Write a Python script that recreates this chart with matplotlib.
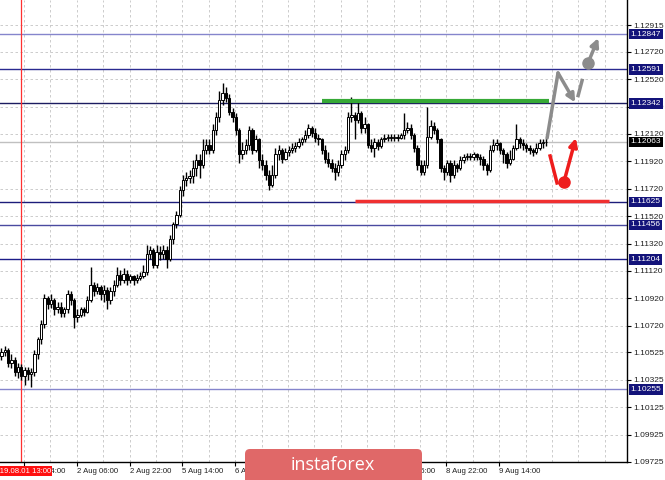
import numpy as np
import matplotlib
matplotlib.use('Agg')
import matplotlib.pyplot as plt
import matplotlib.transforms as mtransforms
from matplotlib.patches import FancyBboxPatch

# EURUSD H1 candles, open = previous close
first_open = 1.1050
closes = [1.1053, 1.1054, 1.1045, 1.1047, 1.1038, 1.1042, 1.1035, 1.1040, 1.1037, 1.1038,
          1.1051, 1.1062, 1.1073, 1.1092, 1.1088, 1.1091, 1.1084, 1.1086, 1.1081, 1.1084,
          1.1095, 1.1091, 1.1078, 1.1080, 1.1084, 1.1082, 1.1091, 1.1102, 1.1097, 1.1100,
          1.1095, 1.1098, 1.1091, 1.1097, 1.1102, 1.1109, 1.1105, 1.1110, 1.1105, 1.1108,
          1.1105, 1.1107, 1.1108, 1.1111, 1.1124, 1.1127, 1.1116, 1.1126, 1.1124, 1.1127,
          1.1121, 1.1135, 1.1146, 1.1153, 1.1171, 1.1178, 1.1180, 1.1181, 1.1187, 1.1193,
          1.1189, 1.1200, 1.1204, 1.1200, 1.1215, 1.1224, 1.1237, 1.1242, 1.1238, 1.1228,
          1.1224, 1.1215, 1.1197, 1.1200, 1.1204, 1.1215, 1.1200, 1.1208, 1.1193, 1.1189,
          1.1182, 1.1175, 1.1182, 1.1197, 1.1200, 1.1194, 1.1199, 1.1200, 1.1202, 1.1203,
          1.1206, 1.1208, 1.1211, 1.1216, 1.1213, 1.1209, 1.1208, 1.1200, 1.1194, 1.1191,
          1.1187, 1.1184, 1.1189, 1.1197, 1.1200, 1.1224, 1.1226, 1.1222, 1.1227, 1.1216,
          1.1219, 1.1204, 1.1202, 1.1206, 1.1203, 1.1208, 1.1209, 1.1210, 1.1209, 1.1210,
          1.1209, 1.1211, 1.1215, 1.1216, 1.1211, 1.1202, 1.1189, 1.1184, 1.1189, 1.1210,
          1.1218, 1.1215, 1.1208, 1.1187, 1.1184, 1.1191, 1.1182, 1.1189, 1.1187, 1.1193,
          1.1195, 1.1196, 1.1195, 1.1197, 1.1195, 1.1194, 1.1189, 1.1186, 1.1200, 1.1204,
          1.1205, 1.1200, 1.1197, 1.1191, 1.1194, 1.1202, 1.1208, 1.1205, 1.1204, 1.1202,
          1.1200, 1.1199, 1.1202, 1.1205, 1.1206, 1.12063]
highs = [1.1056, 1.1057, 1.1056, 1.1051, 1.1049, 1.1045, 1.1044, 1.1042, 1.1042, 1.1041,
         1.1054, 1.1064, 1.1076, 1.1095, 1.1094, 1.1095, 1.1092, 1.1089, 1.1089, 1.1086,
         1.1098, 1.1097, 1.1092, 1.1084, 1.1086, 1.1086, 1.1094, 1.1115, 1.1104, 1.1103,
         1.1102, 1.1102, 1.1100, 1.1100, 1.1105, 1.1115, 1.1113, 1.1114, 1.1113, 1.1110,
         1.1109, 1.1110, 1.1111, 1.1116, 1.1131, 1.1130, 1.1129, 1.1131, 1.1130, 1.1131,
         1.1130, 1.1138, 1.1148, 1.1156, 1.1174, 1.1182, 1.1184, 1.1186, 1.1193, 1.1197,
         1.1197, 1.1208, 1.1208, 1.1208, 1.1219, 1.1228, 1.1243, 1.1249, 1.1246, 1.1241,
         1.1231, 1.1227, 1.1216, 1.1206, 1.1208, 1.1218, 1.1216, 1.1211, 1.1209, 1.1197,
         1.1193, 1.1186, 1.1189, 1.1202, 1.1204, 1.1202, 1.1202, 1.1203, 1.1205, 1.1206,
         1.1209, 1.1210, 1.1215, 1.1219, 1.1218, 1.1216, 1.1212, 1.1209, 1.1204, 1.1199,
         1.1194, 1.1191, 1.1193, 1.1200, 1.1203, 1.1228, 1.1239, 1.1228, 1.1237, 1.1229,
         1.1224, 1.1220, 1.1208, 1.1209, 1.1208, 1.1210, 1.1212, 1.1212, 1.1212, 1.1212,
         1.1212, 1.1213, 1.1227, 1.1221, 1.1219, 1.1213, 1.1204, 1.1193, 1.1193, 1.1232,
         1.1222, 1.1221, 1.1216, 1.1209, 1.1189, 1.1193, 1.1193, 1.1193, 1.1191, 1.1196,
         1.1197, 1.1198, 1.1198, 1.1199, 1.1198, 1.1197, 1.1196, 1.1191, 1.1204, 1.1208,
         1.1208, 1.1206, 1.1202, 1.1199, 1.1200, 1.1204, 1.1219, 1.1210, 1.1208, 1.1205,
         1.1204, 1.1202, 1.1205, 1.1208, 1.1208, 1.1209]
lows = [1.1047, 1.1050, 1.1042, 1.1041, 1.1035, 1.1034, 1.1032, 1.1029, 1.1032, 1.1027,
        1.1035, 1.1048, 1.1059, 1.1070, 1.1084, 1.1085, 1.1080, 1.1081, 1.1078, 1.1078,
        1.1081, 1.1087, 1.1070, 1.1075, 1.1078, 1.1079, 1.1081, 1.1089, 1.1094, 1.1095,
        1.1091, 1.1089, 1.1084, 1.1088, 1.1094, 1.1100, 1.1102, 1.1103, 1.1102, 1.1103,
        1.1102, 1.1103, 1.1105, 1.1107, 1.1109, 1.1121, 1.1114, 1.1114, 1.1120, 1.1121,
        1.1114, 1.1119, 1.1132, 1.1143, 1.1151, 1.1167, 1.1174, 1.1176, 1.1176, 1.1181,
        1.1180, 1.1187, 1.1197, 1.1197, 1.1198, 1.1211, 1.1221, 1.1233, 1.1235, 1.1226,
        1.1221, 1.1211, 1.1191, 1.1194, 1.1197, 1.1200, 1.1197, 1.1199, 1.1187, 1.1186,
        1.1178, 1.1171, 1.1173, 1.1180, 1.1193, 1.1191, 1.1193, 1.1196, 1.1198, 1.1199,
        1.1202, 1.1204, 1.1206, 1.1209, 1.1210, 1.1206, 1.1204, 1.1197, 1.1191, 1.1188,
        1.1184, 1.1178, 1.1181, 1.1187, 1.1193, 1.1198, 1.1221, 1.1208, 1.1220, 1.1213,
        1.1213, 1.1202, 1.1199, 1.1195, 1.1200, 1.1202, 1.1206, 1.1207, 1.1207, 1.1207,
        1.1207, 1.1208, 1.1208, 1.1213, 1.1208, 1.1199, 1.1186, 1.1182, 1.1182, 1.1187,
        1.1208, 1.1212, 1.1205, 1.1184, 1.1178, 1.1182, 1.1177, 1.1180, 1.1184, 1.1186,
        1.1191, 1.1193, 1.1193, 1.1193, 1.1193, 1.1189, 1.1186, 1.1182, 1.1184, 1.1199,
        1.1200, 1.1197, 1.1191, 1.1187, 1.1189, 1.1193, 1.1200, 1.1202, 1.1200, 1.1199,
        1.1197, 1.1196, 1.1197, 1.1200, 1.1202, 1.1203]

# price scale ticks
y_ticks = [1.12915, 1.12720, 1.12520, 1.12320, 1.12120, 1.11920, 1.11720, 1.11520, 1.11320,
           1.11120, 1.10920, 1.10720, 1.10525, 1.10325, 1.10125, 1.09925, 1.09725]
# time scale labels (bar positions)
x_tick_pos = [6.8, 22.8, 38.8, 54.8, 70.8, 86.8, 102.8, 118.8, 134.8, 150.8]
x_tick_labels = ['1 Aug 14:00', '2 Aug 06:00', '2 Aug 22:00', '5 Aug 14:00', '6 Aug 06:00',
                 '6 Aug 22:00', '7 Aug 14:00', '8 Aug 06:00', '8 Aug 22:00', '9 Aug 14:00']
marker_pos = 5.8
marker_label = '2019.08.01 13:00'

# support / resistance levels
levels = [1.12847, 1.12591, 1.12342, 1.11625, 1.11456, 1.11204, 1.10255]
level_colors = ['#8585cc', '#2a2a90', '#1c1c60', '#1c1c7a', '#4a4aa0', '#1c1c88', '#8585cc']
current_price = 1.12063

# drawn scenario marks
green_x = [97.2, 166.0]
green_y = [1.12358, 1.12358]
red_level_x = [107.0, 184.0]
red_level_y = [1.11632, 1.11632]
gray_up_x = [165.3, 168.6]
gray_up_y = [1.1209, 1.12565]
gray_down_end = (173.8, 1.1235)
gray_dash_x = [174.7, 175.9]
gray_dash_y = [1.1240, 1.1251]
gray_dot = (177.7, 1.12638)
gray_tip = (180.8, 1.12820)
red_stroke_x = [166.2, 168.3]
red_stroke_y = [1.11959, 1.11762]
red_dot = (170.4, 1.11770)
red_tip = (174.0, 1.12090)

W, H = 665, 480
fig = plt.figure(figsize=(W / 100, H / 100), dpi=100)
ax = fig.add_axes([0, 18 / H, 627 / W, 462 / H])

n = len(closes)
idx = np.arange(n)
opens = np.array([first_open] + closes[:-1])
closes_a = np.array(closes)

# grid
for gx in np.arange(-1.2, 190, 8.0):
    ax.axvline(gx, color='#c4c4c4', lw=0.6, ls=(0, (3, 3)), zorder=0)
for gy in y_ticks:
    ax.axhline(gy, color='#c4c4c4', lw=0.6, ls=(0, (3, 3)), zorder=0)

# horizontal levels
for lv, lc in zip(levels, level_colors):
    ax.axhline(lv, color=lc, lw=1.0, zorder=1)
ax.axhline(current_price, color='#c0c0c0', lw=1.0, zorder=1)
ax.axvline(marker_pos, color='#ff3030', lw=0.9, zorder=1)

# candles
ax.vlines(idx, lows, highs, color='black', lw=1.0, zorder=2)
body_low = np.minimum(opens, closes_a)
body_h = np.maximum(np.abs(closes_a - opens), 0.00003)
face = ['white' if c >= o else 'black' for o, c in zip(opens, closes_a)]
ax.bar(idx, body_h, bottom=body_low, width=0.7, color=face, edgecolor='black',
       linewidth=0.7, zorder=3)

# scenario lines
ax.plot(green_x, green_y, color='#36a936', lw=3, solid_capstyle='butt', zorder=4)
ax.plot(red_level_x, red_level_y, color='#f03030', lw=2.5, solid_capstyle='butt', zorder=4)

gray = '#8c8c8c'
ax.plot(gray_up_x, gray_up_y, color=gray, lw=2.5, solid_capstyle='round', zorder=5)
ax.annotate('', xy=gray_down_end, xytext=(gray_up_x[1], gray_up_y[1]),
            arrowprops=dict(arrowstyle='-|>', color=gray, lw=2.5, mutation_scale=12,
                            shrinkA=0, shrinkB=0), zorder=5)
ax.plot(gray_dash_x, gray_dash_y, color=gray, lw=2.5, zorder=5)
ax.plot(*gray_dot, 'o', color=gray, ms=8, zorder=5)
ax.annotate('', xy=gray_tip, xytext=gray_dot,
            arrowprops=dict(arrowstyle='-|>', color=gray, lw=2.5, mutation_scale=12,
                            shrinkA=0, shrinkB=0), zorder=5)

red = '#ee1c1c'
ax.plot(red_stroke_x, red_stroke_y, color=red, lw=2.5, zorder=5)
ax.plot(*red_dot, 'o', color=red, ms=8, zorder=5)
ax.annotate('', xy=red_tip, xytext=red_dot,
            arrowprops=dict(arrowstyle='-|>', color=red, lw=2.5, mutation_scale=12,
                            shrinkA=0, shrinkB=0), zorder=5)

# axes, ticks
ax.set_xlim(-0.45, 189.5)
ax.set_ylim(1.09725, 1.130975)
for s in ['top', 'left']:
    ax.spines[s].set_visible(False)
ax.spines['right'].set_linewidth(1.0)
ax.spines['bottom'].set_linewidth(1.0)

ax.yaxis.tick_right()
ax.set_yticks(y_ticks)
ax.set_yticklabels(['%.5f' % t for t in y_ticks], fontsize=6, family='Liberation Sans',
                   color='#202020')
ax.tick_params(axis='y', length=3, pad=1.5, width=0.8)

ax.set_xticks(x_tick_pos)
ax.set_xticklabels(x_tick_labels, fontsize=5.6, family='Liberation Sans', ha='left',
                   color='#202020')
ax.tick_params(axis='x', length=3, pad=1.5, width=0.8)

# price tags on the right
yt = mtransforms.blended_transform_factory(ax.transAxes, ax.transData)
for lv in levels:
    ax.text(1.006, lv, '%.5f' % lv, transform=yt, fontsize=6, family='Liberation Sans',
            color='white', va='center', ha='left', clip_on=False, zorder=10,
            bbox=dict(boxstyle='square,pad=0.2', fc='#13137a', ec='none'))
ax.text(1.006, current_price, '%.5f' % current_price, transform=yt, fontsize=6,
        family='Liberation Sans', color='white', va='center', ha='left', clip_on=False,
        zorder=10, bbox=dict(boxstyle='square,pad=0.2', fc='black', ec='none'))

# red time tag
xt = mtransforms.blended_transform_factory(ax.transData, ax.transAxes)
ax.text(marker_pos, -0.0195, marker_label, transform=xt, fontsize=5.6,
        family='Liberation Sans', color='white', va='center', ha='center', clip_on=False,
        zorder=10, bbox=dict(boxstyle='square,pad=0.2', fc='#ff1010', ec='none'))

# watermark badge
badge = FancyBboxPatch((245, -12), 177, 43, boxstyle='round,pad=0,rounding_size=5',
                       transform=mtransforms.IdentityTransform(), fc='#e06868', ec='none',
                       zorder=20)
fig.add_artist(badge)
fig.text(333, 15, 'instaforex', transform=mtransforms.IdentityTransform(), fontsize=13,
         family='Open Sans', color='white', ha='center', va='center', zorder=21)

fig.savefig('out.png', dpi=100)
